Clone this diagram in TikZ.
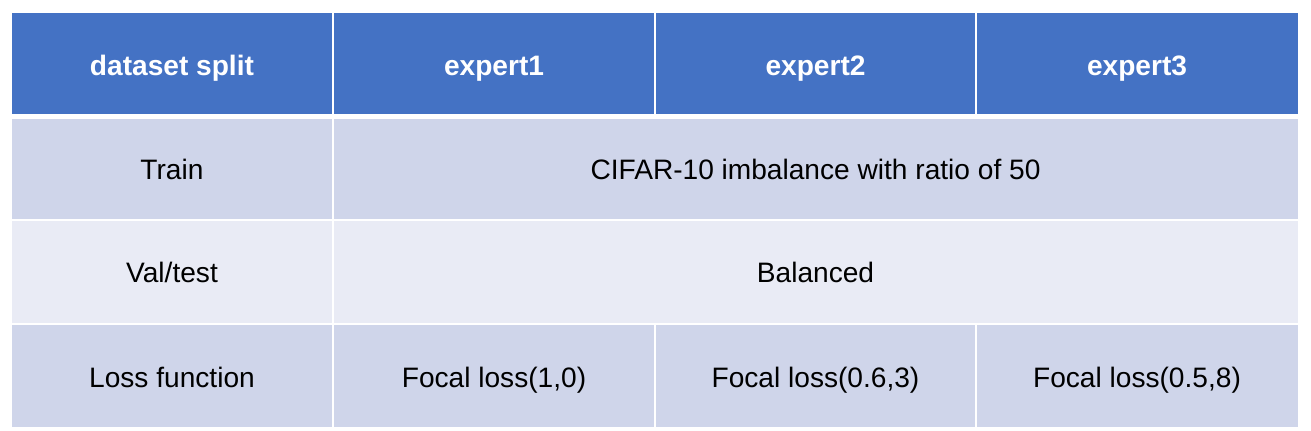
\documentclass[tikz,border=0pt]{standalone}
\usepackage{fontspec}
\setmainfont{Liberation Sans}
\definecolor{hdrblue}{HTML}{4472C4}
\definecolor{rowdark}{HTML}{CFD5EA}
\definecolor{rowlight}{HTML}{E9EBF5}
\tikzset{
  cell/.style={inner sep=0pt, text height=0.716em, text depth=0pt, font=\fontsize{16}{19}\selectfont},
  hdr/.style={cell, text=white, font=\fontsize{16}{19}\selectfont\bfseries},
  rule/.style={white, line width=0.04cm},
}
\begin{document}
\begin{tikzpicture}[x=0.02cm,y=-0.02cm]
\useasboundingbox (0,0) rectangle (1311,431);
% row backgrounds
\fill[hdrblue] (12,13) rectangle (1298,116.5);
\fill[rowdark] (12,116.5) rectangle (1298,220.5);
\fill[rowlight] (12,220.5) rectangle (1298,324);
\fill[rowdark] (12,324) rectangle (1298,427);

% white separators
\draw[rule, line width=0.1cm] (12,116.5) -- (1298,116.5);
\draw[rule] (12,220.5) -- (1298,220.5);
\draw[rule] (12,324) -- (1298,324);
\draw[rule] (333,13) -- (333,427);
\foreach \x in {655,976}{
  \draw[rule] (\x,13) -- (\x,114);
  \draw[rule] (\x,324) -- (\x,427);
}

% header row
\node[hdr] (hsplit) at (172,69) {dataset split};
\node[hdr] (hexpa) at (494,69) {expert1};
\node[hdr] (hexpb) at (815.5,69) {expert2};
\node[hdr] (hexpc) at (1137,69) {expert3};

% body rows
\node[cell] (train) at (172,173) {Train};
\node[cell] (traindata) at (815.5,173) {CIFAR-10 imbalance with ratio of 50};
\node[cell] (valtest) at (172,276) {Val/test};
\node[cell] (valdata) at (815.5,276) {Balanced};
\node[cell] (loss) at (172,381) {Loss function};
\node[cell] (lossa) at (494,381) {Focal loss(1,0)};
\node[cell] (lossb) at (815.5,381) {Focal loss(0.6,3)};
\node[cell] (lossc) at (1137,381) {Focal loss(0.5,8)};
\end{tikzpicture}
\end{document}
